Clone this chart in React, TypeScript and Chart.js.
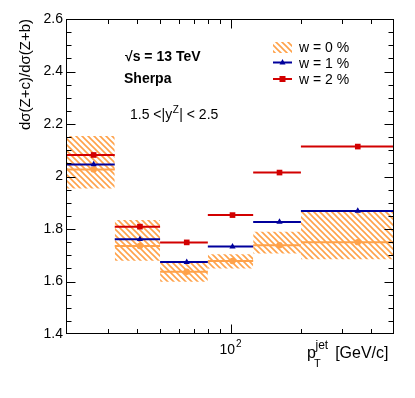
import React, { useEffect, useRef } from "react";
import { Chart, registerables } from "chart.js";

Chart.register(...registerables);

// ---- data ----
const binEdges = [20, 32, 50, 80, 125, 200, 500];
const binMeans = [26, 41, 65, 102, 162, 350];
const w0 = [2.027, 1.735, 1.637, 1.678, 1.738, 1.75];
const w0Up = [2.154, 1.834, 1.672, 1.704, 1.79, 1.869];
const w0Down = [1.954, 1.679, 1.599, 1.65, 1.707, 1.685];
const w1 = [2.046, 1.761, 1.674, 1.733, 1.827, 1.869];
const w2 = [2.082, 1.809, 1.749, 1.853, 2.015, 2.114];
const yTicks = [1.4, 1.6, 1.8, 2.0, 2.2, 2.4, 2.6];
const xMinorTicks = [30, 40, 50, 60, 70, 80, 90, 200, 300, 400];
const xMajorTicks = [100];
const legendLabels = ["w = 0 %", "w = 1 %", "w = 2 %"];

const ORANGE = "#ffa24a";
const RED = "#d20000";
const BLUE = "#00009c";
const FONT = '"Liberation Sans", Arial, Helvetica, sans-serif';

function stepData(vals: number[]) {
  const out: { x: number; y: number | null }[] = [];
  vals.forEach((v, i) => {
    out.push({ x: binEdges[i], y: v }, { x: binEdges[i + 1], y: v }, { x: binEdges[i + 1], y: null });
  });
  return out;
}

function pointData(vals: number[]) {
  return binMeans.map((x, i) => ({ x, y: vals[i] }));
}

function makeHatch(ctx: CanvasRenderingContext2D, color: string) {
  const s = 6;
  const c = document.createElement("canvas");
  c.width = s;
  c.height = s;
  const g = c.getContext("2d")!;
  g.strokeStyle = color;
  g.lineWidth = 1.6;
  g.beginPath();
  g.moveTo(-1, -1);
  g.lineTo(s + 1, s + 1);
  g.moveTo(-1, s - 1);
  g.lineTo(1, s + 1);
  g.moveTo(s - 1, -1);
  g.lineTo(s + 1, 1);
  g.stroke();
  return ctx.createPattern(c, "repeat")!;
}

export default function App() {
  const ref = useRef<HTMLCanvasElement | null>(null);

  useEffect(() => {
    const canvas = ref.current!;
    const ctx0 = canvas.getContext("2d")!;
    const hatch = makeHatch(ctx0, ORANGE);

    const hatchSets = binMeans.map((_, i) => ({
      data: [
        { x: binEdges[i], y: w0Up[i] },
        { x: binEdges[i + 1], y: w0Up[i] },
      ],
      fill: { value: w0Down[i] },
      backgroundColor: hatch,
      borderColor: "rgba(0,0,0,0)",
      borderWidth: 0,
      pointRadius: 0,
      order: 10,
    }));

    const lineSet = (vals: number[], color: string, order: number) => ({
      data: stepData(vals),
      borderColor: color,
      borderWidth: 2,
      pointRadius: 0,
      fill: false,
      spanGaps: false,
      tension: 0,
      order,
    });

    const markerSet = (vals: number[], color: string, style: string, r: number, order: number) => ({
      data: pointData(vals),
      showLine: false,
      pointStyle: style,
      pointRadius: r,
      pointBackgroundColor: color,
      pointBorderColor: color,
      pointBorderWidth: 0,
      borderColor: color,
      fill: false,
      order,
    });

    const framePlugin = {
      id: "rootFrame",
      afterDraw(chart: any) {
        const { ctx, chartArea: ca } = chart;
        const xs = chart.scales.x;
        const ys = chart.scales.y;
        ctx.save();
        const L = Math.round(ca.left) - 0.5;
        const R = Math.round(ca.right) - 0.5;
        const T = Math.round(ca.top) + 0.5;
        const B = Math.round(ca.bottom) - 0.5;
        ctx.strokeStyle = "#000";
        ctx.lineWidth = 1;
        ctx.strokeRect(L, T, R - L, B - T);
        ctx.beginPath();
        for (let k = 1; k < 24; k++) {
          const v = 1.4 + k * 0.05;
          const py = Math.round(ys.getPixelForValue(v)) + 0.5;
          const len = k % 4 === 0 ? 9 : 5;
          ctx.moveTo(L, py);
          ctx.lineTo(L + len, py);
          ctx.moveTo(R, py);
          ctx.lineTo(R - len, py);
        }
        const xt = [...xMinorTicks.map((v) => [v, 4.5]), ...xMajorTicks.map((v) => [v, 9])];
        xt.forEach(([v, len]) => {
          const px = Math.round(xs.getPixelForValue(v)) + 0.5;
          ctx.moveTo(px, B);
          ctx.lineTo(px, B - len);
          ctx.moveTo(px, T);
          ctx.lineTo(px, T + len);
        });
        ctx.stroke();

        ctx.fillStyle = "#000";
        ctx.textBaseline = "alphabetic";

        // x tick label 10^2
        const p100 = xs.getPixelForValue(100);
        ctx.font = `14px ${FONT}`;
        const w10 = ctx.measureText("10").width;
        ctx.font = `10px ${FONT}`;
        const w2s = ctx.measureText("2").width;
        const x0 = p100 - (w10 + w2s + 1) / 2;
        ctx.textAlign = "left";
        ctx.font = `14px ${FONT}`;
        ctx.fillText("10", x0, 354);
        ctx.font = `10px ${FONT}`;
        ctx.fillText("2", x0 + w10 + 1, 347);

        // x axis title
        ctx.font = `16px ${FONT}`;
        ctx.fillText("p", 307, 358);
        ctx.font = `11px ${FONT}`;
        ctx.fillText("T", 314, 367);
        ctx.font = `12px ${FONT}`;
        ctx.fillText("jet", 315.5, 349);
        ctx.font = `16px ${FONT}`;
        ctx.textAlign = "right";
        ctx.fillText("[GeV/c]", 388.5, 358);

        // y axis title
        ctx.save();
        ctx.translate(30, 19);
        ctx.rotate(-Math.PI / 2);
        ctx.textAlign = "right";
        ctx.font = `15px ${FONT}`;
        ctx.fillText("d\u03c3(Z+c)/d\u03c3(Z+b)", 0, 0);
        ctx.restore();

        // annotations
        ctx.textAlign = "left";
        ctx.font = `bold 14px ${FONT}`;
        ctx.fillText("\u221as = 13 TeV", 125, 60.5);
        ctx.fillText("Sherpa", 124, 83);
        ctx.font = `14px ${FONT}`;
        const part1 = "1.5 <|y";
        ctx.fillText(part1, 130, 119);
        const wp1 = ctx.measureText(part1).width;
        ctx.font = `10px ${FONT}`;
        ctx.fillText("Z", 130 + wp1 + 0.5, 112.5);
        const wz = ctx.measureText("Z").width;
        ctx.font = `14px ${FONT}`;
        ctx.fillText("| < 2.5", 130 + wp1 + wz + 1, 119);

        // legend
        const lx0 = 273;
        const lx1 = 292;
        ctx.fillStyle = hatch;
        ctx.fillRect(lx0, 42, lx1 - lx0, 11);
        ctx.lineWidth = 2;
        ctx.strokeStyle = BLUE;
        ctx.beginPath();
        ctx.moveTo(lx0, 62.5);
        ctx.lineTo(lx1, 62.5);
        ctx.stroke();
        ctx.fillStyle = BLUE;
        ctx.beginPath();
        const cx = (lx0 + lx1) / 2;
        ctx.moveTo(cx - 3, 64.5);
        ctx.lineTo(cx + 3, 64.5);
        ctx.lineTo(cx, 59);
        ctx.closePath();
        ctx.fill();
        ctx.strokeStyle = RED;
        ctx.beginPath();
        ctx.moveTo(lx0, 79);
        ctx.lineTo(lx1, 79);
        ctx.stroke();
        ctx.fillStyle = RED;
        ctx.fillRect(cx - 3, 76, 6, 6);
        ctx.fillStyle = "#000";
        ctx.font = `14px ${FONT}`;
        ctx.fillText(legendLabels[0], 299, 51.5);
        ctx.fillText(legendLabels[1], 299, 67.5);
        ctx.fillText(legendLabels[2], 299, 83.5);
        ctx.restore();
      },
    };

    const chart = new Chart(canvas, {
      type: "line",
      data: {
        datasets: [
          markerSet(w2, RED, "rect", 4, 1),
          lineSet(w2, RED, 2),
          markerSet(w1, BLUE, "triangle", 3.6, 3),
          lineSet(w1, BLUE, 4),
          markerSet(w0, ORANGE, "circle", 3.2, 5),
          lineSet(w0, ORANGE, 6),
          ...hatchSets,
        ] as any,
      },
      options: {
        responsive: false,
        animation: false,
        events: [],
        layout: { padding: { left: 0, right: 21, top: 19, bottom: 0 } },
        plugins: {
          legend: { display: false },
          tooltip: { enabled: false },
        },
        scales: {
          x: {
            type: "logarithmic",
            min: 20,
            max: 500,
            grid: { display: false, drawTicks: false },
            border: { display: false },
            ticks: { display: false },
            afterFit(s: any) {
              s.height = 64;
            },
          },
          y: {
            type: "linear",
            min: 1.4,
            max: 2.6,
            afterBuildTicks(s: any) {
              s.ticks = yTicks.map((v) => ({ value: v }));
            },
            ticks: {
              color: "#000",
              padding: 4,
              font: { family: FONT, size: 14 },
              callback: (v: any) => (Math.abs(Number(v) - 2) < 1e-6 ? "2" : Number(v).toFixed(1)),
            },
            grid: { display: false, drawTicks: false },
            border: { display: false },
            afterFit(s: any) {
              s.width = 67;
            },
          },
        },
      } as any,
      plugins: [framePlugin],
    });
    return () => chart.destroy();
  }, []);

  return (
    <div style={{ position: "absolute", left: 0, top: 0, width: 415, height: 398, background: "#fff" }}>
      <canvas ref={ref} width={415} height={398} style={{ display: "block" }} />
    </div>
  );
}
